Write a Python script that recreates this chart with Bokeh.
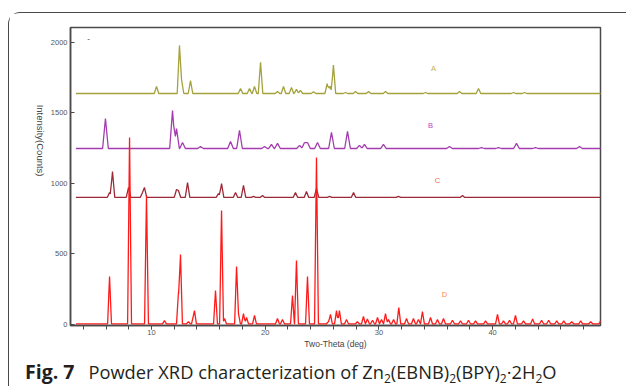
import numpy as np
from bokeh.plotting import figure
from bokeh.models import Label, FixedTicker, Range1d, Div
from bokeh.layouts import column
from bokeh.embed import file_html
from bokeh.resources import INLINE

# ---- data (two-theta in deg, intensity in counts) ----
scan_start, scan_end = 3.35, 50.1

a_base = 1638
a_pos = [10.44, 12.46, 12.64, 13.43, 17.83, 18.62, 19.06, 19.59, 21.08, 21.61, 22.31,
         22.75, 23.10, 24.25, 25.45, 25.70, 26.00, 27.06, 27.94, 29.09, 30.58, 34.10,
         37.09, 38.76, 41.84, 42.81]
a_int = [1688, 1979, 1738, 1730, 1674, 1674, 1688, 1860, 1652, 1688, 1681,
         1667, 1660, 1650, 1707, 1690, 1840, 1645, 1652, 1652, 1652, 1645,
         1652, 1674, 1645, 1645]

b_base = 1248
b_pos = [5.95, 11.85, 12.20, 12.73, 14.31, 16.95, 17.74, 19.94, 20.55, 21.08, 23.02,
         23.46, 23.72, 24.60, 25.83, 27.24, 28.29, 28.73, 30.40, 36.21, 39.02, 40.52,
         42.10, 43.77, 47.64]
b_int = [1461, 1518, 1390, 1291, 1262, 1298, 1376, 1262, 1277, 1284, 1270,
         1291, 1291, 1291, 1362, 1369, 1270, 1277, 1277, 1262, 1255, 1255,
         1284, 1255, 1262]

c_base = 901
c_pos = [6.31, 6.57, 7.98, 9.21, 9.38, 12.20, 12.37, 13.17, 15.89, 16.16, 17.39,
         18.09, 18.97, 19.76, 22.66, 23.63, 24.51, 25.66, 27.77, 31.72, 37.35]
c_int = [936, 1085, 972, 936, 972, 957, 950, 1007, 929, 1000, 936,
         986, 908, 915, 936, 943, 965, 908, 936, 908, 915]

d_base = 5
d_pos = [6.31, 8.07, 9.56, 11.14, 12.37, 12.55, 13.25, 13.69, 13.78, 15.63, 16.16,
         16.42, 17.48, 17.65, 18.09, 18.36, 19.06, 21.08, 21.52, 22.40, 22.75, 23.72,
         24.51, 25.56, 25.74, 26.27, 26.53, 27.15, 28.11, 28.64, 28.99, 29.44, 29.88,
         30.23, 30.58, 30.85, 31.29, 31.75, 32.43, 33.04, 33.48, 33.83, 34.54, 35.15,
         35.68, 36.47, 37.18, 37.88, 38.50, 39.38, 40.43, 40.96, 41.49, 42.01, 42.72,
         43.52, 44.31, 44.93, 45.64, 46.26, 46.96, 47.75, 48.63, 49.51]
d_int = [340, 1326, 915, 28, 227, 496, 20, 64, 99, 241, 809,
         43, 411, 78, 78, 50, 64, 43, 35, 206, 454, 340,
         1184, 20, 71, 99, 99, 35, 20, 57, 40, 30, 50,
         35, 78, 35, 35, 120, 43, 43, 35, 92, 50, 35,
         43, 30, 25, 30, 25, 25, 71, 25, 30, 64, 25,
         40, 30, 30, 25, 25, 20, 25, 20, 25]

series_names = ["A", "B", "C", "D"]
label_pos = [(34.8, 1816), (34.54, 1411), (35.15, 1021), (35.77, 213)]

x_ticks = [10, 20, 30, 40]
x_minor = list(range(4, 50, 2))
y_ticks = [0, 500, 1000, 1500, 2000]


def pattern(base, pos, inten, w):
    """Piecewise-linear profile: each read peak drawn as a narrow triangle."""
    pos = np.asarray(pos, float)
    inten = np.asarray(inten, float)
    xs = np.concatenate([[scan_start], pos - w, pos, pos + w, [scan_end]])
    xs = np.unique(xs)
    ys = np.full_like(xs, float(base))
    for p_, h in zip(pos, inten):
        tri = base + (h - base) * np.clip(1 - np.abs(xs - p_) / w, 0, None)
        ys = np.maximum(ys, tri)
    return xs, ys


W, H = 617, 339
p = figure(width=W, height=H, x_range=Range1d(2.876, 49.49),
           y_range=Range1d(-7, 2106), output_backend="svg", toolbar_location=None,
           min_border_left=61, min_border_right=26, min_border_top=14,
           min_border_bottom=27)
p.grid.visible = False
p.outline_line_color = "#4a4a4a"
p.outline_line_width = 1.5
p.background_fill_color = "white"
p.border_fill_color = "white"

colors = ["#a4a23c", "#a43cb0", "#9c2a36", "#ff1a1a"]
label_colors = ["#c2b04a", "#b444c4", "#e2704a", "#ff8a4a"]
widths = [0.2, 0.25, 0.2, 0.17]
data = [(a_base, a_pos, a_int), (b_base, b_pos, b_int),
        (c_base, c_pos, c_int), (d_base, d_pos, d_int)]
for (base, pos, inten), col, w in zip(data, colors, widths):
    xs, ys = pattern(base, pos, inten, w)
    p.line(xs, ys, line_color=col, line_width=1.3)

for name, (lx, ly), lc in zip(series_names, label_pos, label_colors):
    p.add_layout(Label(x=lx, y=ly, text=name, text_color=lc, text_font="Liberation Sans",
                       text_font_size="7.5px", text_align="center",
                       text_baseline="middle"))

p.add_layout(Label(x=4.46, y=2030, text="-", text_color="#333",
                   text_font="Liberation Sans", text_font_size="8px",
                   text_align="center", text_baseline="middle"))

xa = p.xaxis[0]
xa.ticker = FixedTicker(ticks=x_ticks, minor_ticks=x_minor)
xa.major_tick_in = 0
xa.major_tick_out = 4
xa.minor_tick_in = 0
xa.minor_tick_out = 4
xa.axis_line_color = "#4a4a4a"
xa.axis_line_width = 1.5
xa.major_tick_line_color = "#4a4a4a"
xa.minor_tick_line_color = "#4a4a4a"
xa.major_label_text_font = "Liberation Sans"
xa.major_label_text_font_size = "7.5px"
xa.major_label_text_color = "#555"
xa.major_label_standoff = 0
xa.axis_label = "Two-Theta (deg)"
xa.axis_label_text_font = "Liberation Sans"
xa.axis_label_text_font_size = "8.5px"
xa.axis_label_text_font_style = "normal"
xa.axis_label_text_color = "#444"
xa.axis_label_standoff = 1

ya = p.yaxis[0]
ya.ticker = FixedTicker(ticks=y_ticks, minor_ticks=[])
ya.major_tick_in = 4
ya.major_tick_out = 0
ya.minor_tick_in = 0
ya.minor_tick_out = 0
ya.axis_line_color = "#4a4a4a"
ya.axis_line_width = 1.5
ya.major_tick_line_color = "#4a4a4a"
ya.major_label_text_font = "Liberation Sans"
ya.major_label_text_font_size = "7.5px"
ya.major_label_text_color = "#555"
ya.major_label_standoff = 3
ya.axis_label = "Intensity(Counts)"
ya.axis_label_orientation = -np.pi / 2
ya.axis_label_text_font = "Liberation Sans"
ya.axis_label_text_font_size = "9.5px"
ya.axis_label_text_font_style = "normal"
ya.axis_label_text_color = "#444"
ya.axis_label_standoff = 7

sub = '<span style="font-size:12px; position:relative; top:4px;">2</span>'
caption_html = (
    '<div style="font-family:\'Open Sans\'; font-size:18.3px; color:#231f20; '
    'line-height:24px; padding-left:11px; padding-top:3px; white-space:nowrap;">'
    '<span style="font-weight:bold; font-size:19.5px;">Fig. 7</span>'
    '<span style="display:inline-block; width:14px;"></span>'
    'Powder XRD characterization of Zn' + sub + '(EBNB)' + sub + '(BPY)' + sub +
    '\u00b72H' + sub + 'O</div>'
)
cap = Div(text=caption_html, width=605, height=32)

lay = column(p, cap, spacing=0, margin=(12, 0, 0, 8),
             styles={"border-style": "solid none none solid",
                     "border-width": "1.4px 0px 0px 1.4px",
                     "border-color": "#4a4a4a",
                     "border-radius": "12px 0px 0px 0px"})

open("out.html", "w").write(file_html(lay, INLINE))
